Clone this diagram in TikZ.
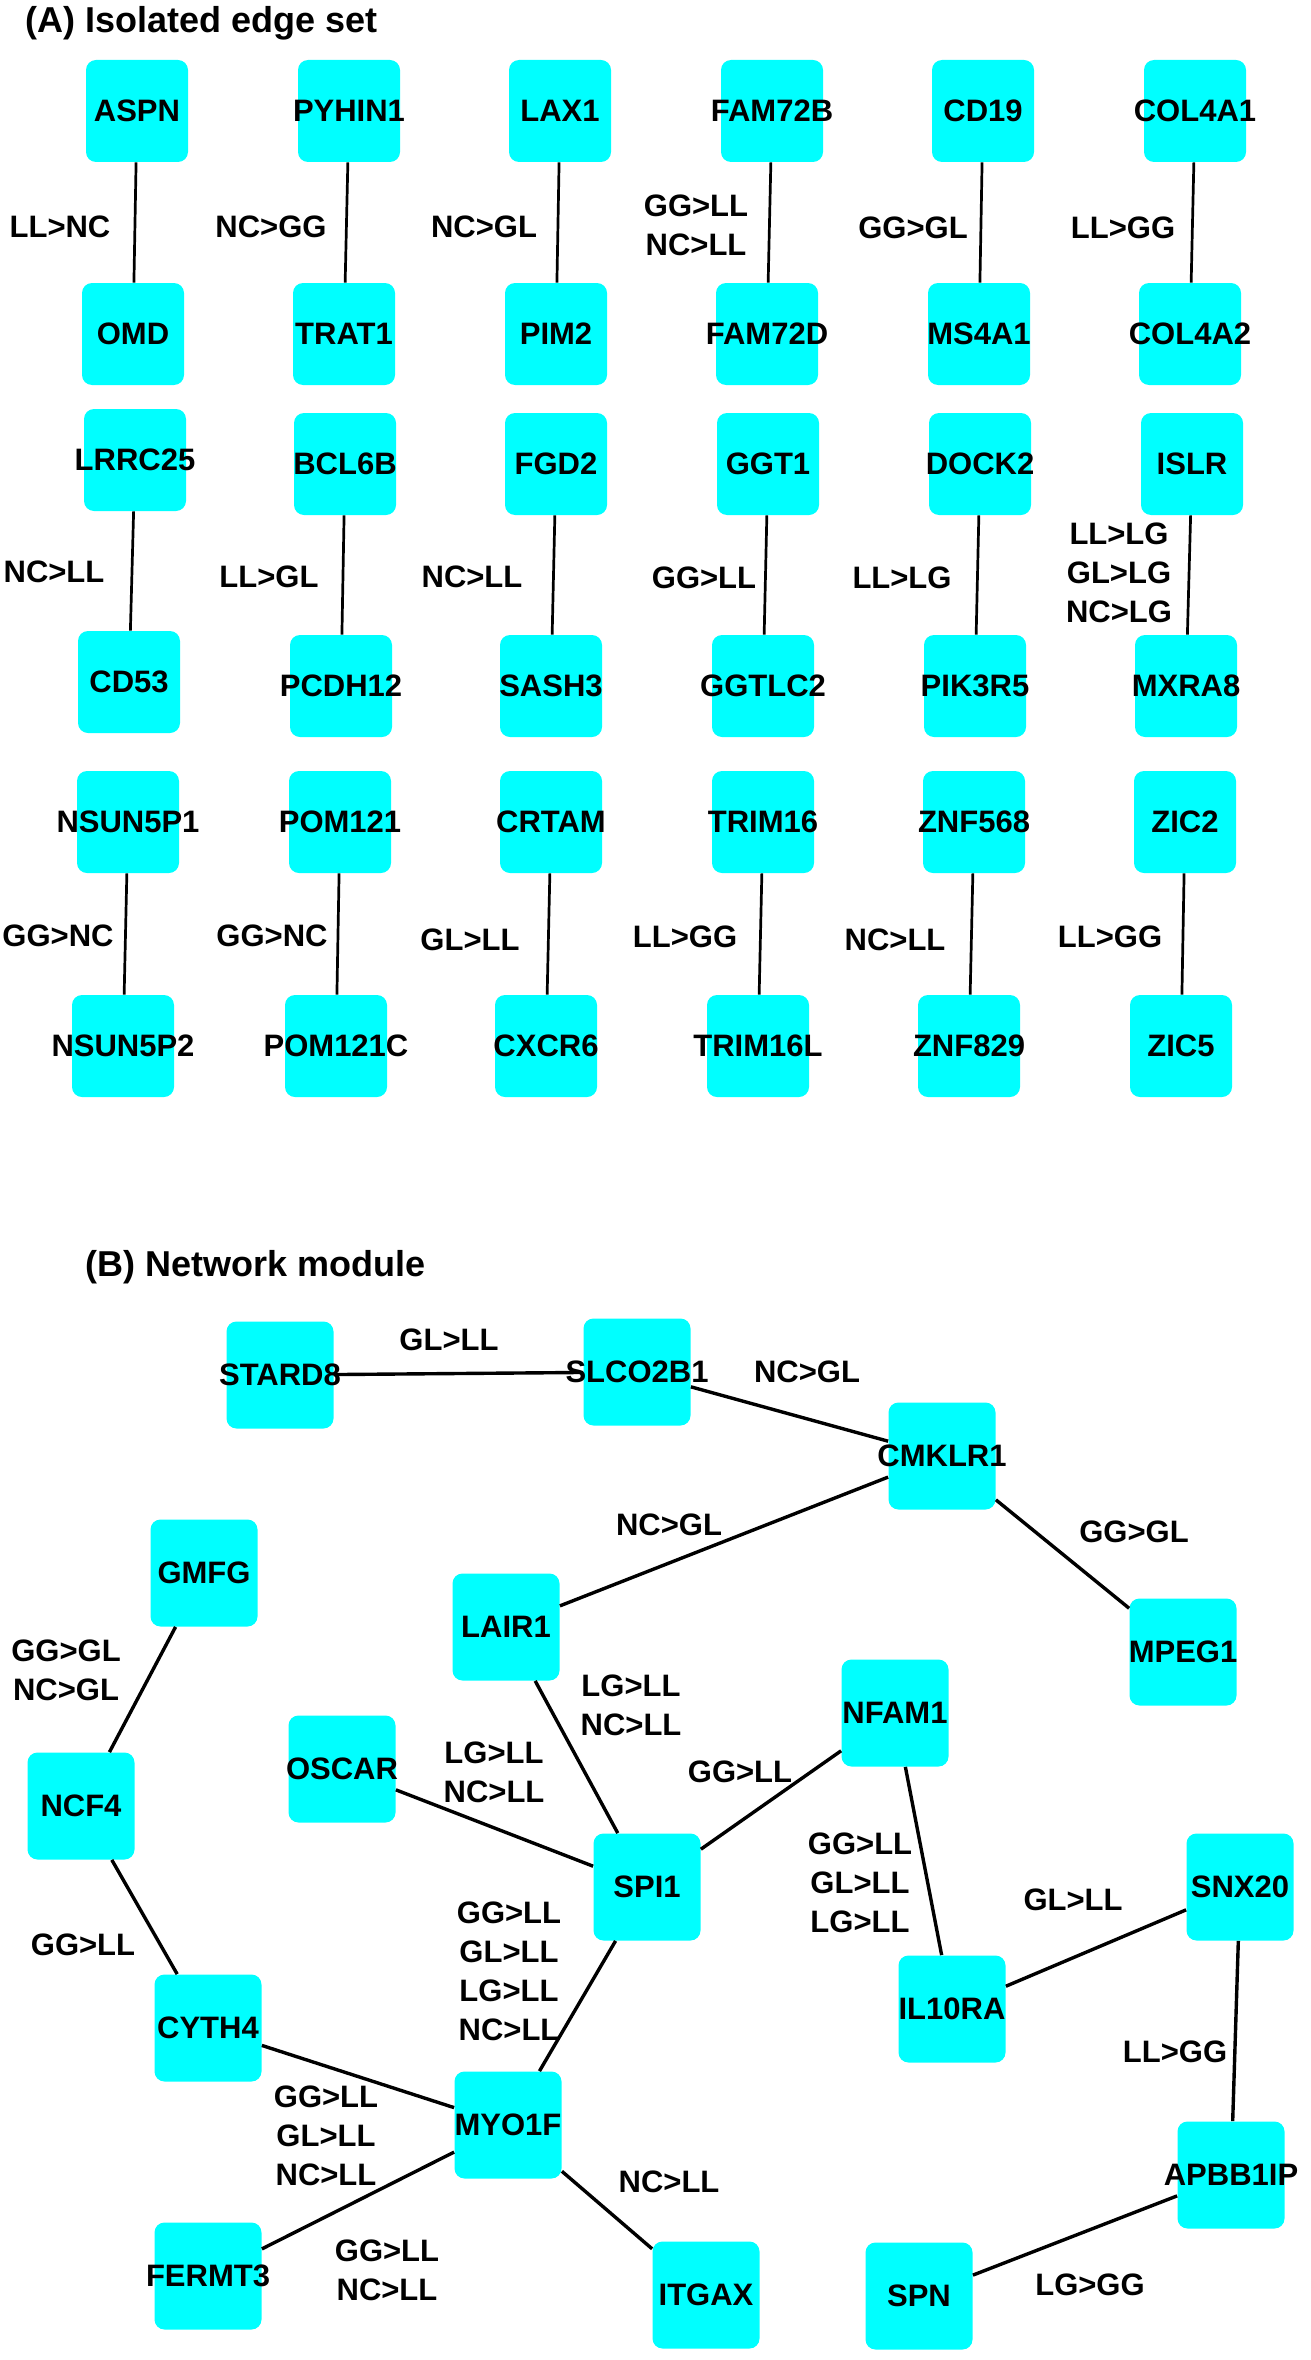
\documentclass[tikz,border=0pt]{standalone}
\usepackage{fontspec}
\setmainfont{Liberation Sans}
\definecolor{genecyan}{RGB}{0,255,255}
\tikzset{
    gene/.style={rectangle, rounded corners=5pt, fill=genecyan, inner sep=0pt,
        minimum width=51pt, minimum height=51pt,
        font=\fontsize{15.5}{18}\selectfont\bfseries},
    geneB/.style={gene, minimum width=53.5pt, minimum height=53.5pt},
    link/.style={line width=1.35pt},
    linkB/.style={line width=1.7pt},
    elab/.style={align=center, inner sep=0pt,
        font=\fontsize{15.5}{19.5}\selectfont\bfseries},
    panel/.style={anchor=base west, inner sep=0pt,
        font=\fontsize{18}{22}\selectfont\bfseries}
}
\begin{document}
\begin{tikzpicture}[x=0.5pt, y=-0.5pt]
        \useasboundingbox (0,0) rectangle (1311,2360);
        \node[panel] (titleA) at (25,33) {(A) Isolated edge set};
        \node[panel] (titleB) at (85,1276) {(B) Network module};
        \foreach \i/\ga/\gb/\xa/\xb/\ya/\yb/\lab/\xl/\yl in {
            1/ASPN/OMD/137/133/111/334/LL>NC/60/227,
            2/PYHIN1/TRAT1/349/344/111/334/NC>GG/271/227,
            3/LAX1/PIM2/560/556/111/334/NC>GL/484/227,
            4/FAM72B/FAM72D/772/767/111/334/{GG>LL\\NC>LL}/696/225,
            5/CD19/MS4A1/983/979/111/334/GG>GL/913/228,
            6/COL4A1/COL4A2/1195/1190/111/334/LL>GG/1123/228,
            7/LRRC25/CD53/135/129/460/682/NC>LL/54/572,
            8/BCL6B/PCDH12/345/341/464/686/LL>GL/269/577,
            9/FGD2/SASH3/556/551/464/686/NC>LL/472/577,
            10/GGT1/GGTLC2/768/763/464/686/GG>LL/704/578,
            11/DOCK2/PIK3R5/980/975/464/686/LL>LG/902/578,
            12/ISLR/MXRA8/1192/1186/464/686/{LL>LG\\GL>LG\\NC>LG}/1119/573,
            13/NSUN5P1/NSUN5P2/128/123/822/1046/GG>NC/58/936,
            14/POM121/POM121C/340/336/822/1046/GG>NC/272/936,
            15/CRTAM/CXCR6/551/546/822/1046/GL>LL/470/940,
            16/TRIM16/TRIM16L/763/758/822/1046/LL>GG/685/937,
            17/ZNF568/ZNF829/974/969/822/1046/NC>LL/895/940,
            18/ZIC2/ZIC5/1185/1181/822/1046/LL>GG/1110/937} {
            \node[gene] (t\i) at (\xa,\ya) {\makebox[0pt]{\ga}};
            \node[gene] (b\i) at (\xb,\yb) {\makebox[0pt]{\gb}};
            \draw[link] (t\i) -- (b\i);
            \node[elab] (l\i) at (\xl,\yl) {\lab};
        }
        \foreach \g/\x/\y in {STARD8/280/1375, SLCO2B1/637/1372, CMKLR1/942/1456,
            GMFG/204/1573, LAIR1/506/1627, MPEG1/1183/1652, NFAM1/895/1713,
            OSCAR/342/1769, NCF4/81/1806, SPI1/647/1887, SNX20/1240/1887,
            IL10RA/952/2009, CYTH4/208/2028, MYO1F/508/2125, APBB1IP/1231/2175,
            FERMT3/208/2276, ITGAX/706/2295, SPN/919/2296} {
            \node[geneB] (\g) at (\x,\y) {\makebox[0pt]{\g}};
        }
        \foreach \a/\b in {STARD8/SLCO2B1, SLCO2B1/CMKLR1, LAIR1/CMKLR1, CMKLR1/MPEG1,
            GMFG/NCF4, LAIR1/SPI1, OSCAR/SPI1, SPI1/NFAM1, NFAM1/IL10RA,
            IL10RA/SNX20, SNX20/APBB1IP, APBB1IP/SPN, NCF4/CYTH4, CYTH4/MYO1F,
            SPI1/MYO1F, FERMT3/MYO1F, MYO1F/ITGAX} {
            \draw[linkB] (\a) -- (\b);
        }
        \foreach \j/\xl/\yl/\lab in {
            1/449/1340/GL>LL,
            2/807/1372/NC>GL,
            3/669/1525/NC>GL,
            4/1134/1532/GG>GL,
            5/66/1670/{GG>GL\\NC>GL},
            6/631/1705/{LG>LL\\NC>LL},
            7/494/1772/{LG>LL\\NC>LL},
            8/740/1772/GG>LL,
            9/860/1883/{GG>LL\\GL>LL\\LG>LL},
            10/1073/1900/GL>LL,
            11/83/1945/GG>LL,
            12/509/1971/{GG>LL\\GL>LL\\LG>LL\\NC>LL},
            13/326/2136/{GG>LL\\GL>LL\\NC>LL},
            14/1175/2052/LL>GG,
            15/669/2182/NC>LL,
            16/387/2270/{GG>LL\\NC>LL},
            17/1090/2285/LG>GG} {
            \node[elab] (m\j) at (\xl,\yl) {\lab};
        }
    \end{tikzpicture}
\end{document}
